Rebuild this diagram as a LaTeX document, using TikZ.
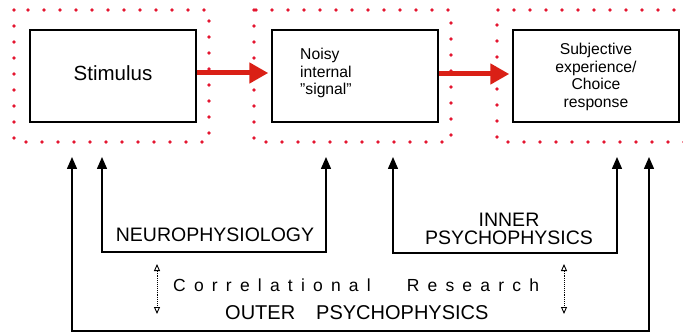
\documentclass[tikz,border=0pt]{standalone}
\usepackage{fontspec}
\setmainfont{Liberation Sans}
\usetikzlibrary{arrows.meta}
\definecolor{dotred}{RGB}{228,22,48}
\definecolor{arrred}{RGB}{218,32,22}
\newcommand\ks{\kern8.2pt}
\begin{document}
\begin{tikzpicture}[x=1pt,y=-1pt,
  box/.style={draw, line width=1.4pt, minimum width=166pt, minimum height=92pt, inner sep=0pt},
  dotbox/.style={draw=dotred, line width=3.6pt, line cap=round, dash pattern=on 0pt off 16pt},
  redarrow/.style={draw=arrred, line width=5pt, -{Triangle[length=19pt,width=20pt]}},
  feed/.style={line width=1.5pt, {Triangle[length=12pt,width=10pt]}-{Triangle[length=12pt,width=10pt]}},
  corr/.style={densely dotted, line width=0.9pt, {Triangle[open,length=7pt,width=6pt]}-{Triangle[open,length=7pt,width=6pt]}},
  big/.style={font=\fontsize{19.5}{18}\selectfont, inner sep=0pt},
  small/.style={font=\fontsize{15.7}{17.8}\selectfont, inner sep=0pt},
]
\useasboundingbox (0,0) rectangle (683,334);
% dotted red frames
\draw[dotbox] (14,10) rectangle (209,142);
\draw[dotbox] (254,10) rectangle (451,142);
\draw[dotbox] (690,10) -- (497,10) -- (497,142) -- (690,142);
% boxes
\node[box] (s1) at (113,76) {};
\node[box] (s2) at (355,76) {};
\node[box] (s3) at (596,76) {};
\node[font=\fontsize{20.5}{22}\selectfont, inner sep=0pt] (t1) at (113,73.5) {Stimulus};
\node[small, anchor=west, align=left] (t2) at (300,73) {Noisy\\internal\\\symbol{"22}signal\symbol{"22}};
\node[small, align=center] (t3) at (596,77) {Subjective\\experience/\\Choice\\response};
% red arrows
\draw[redarrow, shorten >=3pt] ([yshift=3pt]s1.east) -- ([yshift=3pt]s2.west);
\draw[redarrow, shorten >=3pt] ([yshift=2pt]s2.east) -- ([yshift=2pt]s3.west);
% feedback connectors
\coordinate (oa) at (72,157);
\coordinate (ob) at (649,157);
\coordinate (na) at (102,157);
\coordinate (nb) at (326,157);
\coordinate (ia) at (393,157);
\coordinate (ib) at (617,157);
\draw[feed] (na) -- (102,252) -| (nb);
\draw[feed] (ia) -- (393,253) -| (ib);
\draw[feed] (oa) -- (72,331) -| (ob);
\draw[line width=2pt] (72,331) -- (649,331);
% labels
\node[big] (nl) at (215,235) {NEUROPHYSIOLOGY};
\node[big, align=center] (il) at (509,229) {INNER\\PSYCHOPHYSICS};
\node[font=\fontsize{17.5}{20}\selectfont, inner sep=0pt, anchor=west] (cl) at (173,285) {C\ks o\ks r\ks r\ks e\ks l\ks a\ks t\ks i\ks o\ks n\ks a\ks l\hspace*{36pt}R\ks e\ks s\ks e\ks a\ks r\ks c\ks h};
\node[font=\fontsize{20}{22}\selectfont, inner sep=0pt, anchor=west] (ol) at (225,313) {OUTER\hspace{21pt}PSYCHOPHYSICS};
% correlational arrows
\coordinate (ca1) at (157,264);
\coordinate (ca2) at (157,314);
\coordinate (cb1) at (564,264);
\coordinate (cb2) at (564,314);
\draw[corr] (ca1) -- (ca2);
\draw[corr] (cb1) -- (cb2);
\end{tikzpicture}
\end{document}
